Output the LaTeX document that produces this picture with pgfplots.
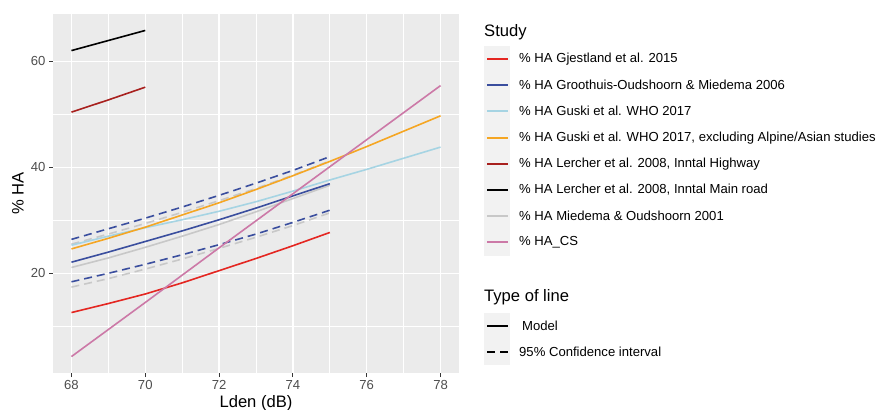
\documentclass[border=0pt]{standalone}
\usepackage{fontspec}
\setmainfont{Liberation Sans}
\usepackage{pgfplots}
\pgfplotsset{compat=1.18}
\definecolor{cRed}{RGB}{228,38,33}
\definecolor{cBlue}{RGB}{58,78,158}
\definecolor{cLBlue}{RGB}{166,212,227}
\definecolor{cOrange}{RGB}{245,166,35}
\definecolor{cDRed}{RGB}{168,32,30}
\definecolor{cGray}{RGB}{200,200,200}
\definecolor{cPink}{RGB}{204,121,167}
\definecolor{panel}{RGB}{235,235,235}
\definecolor{tickc}{RGB}{77,77,77}
\definecolor{keybg}{RGB}{242,242,242}
\newcommand{\legfont}{\fontsize{13.1}{15}\selectfont}
\newcommand{\titfont}{\fontsize{16.6}{19}\selectfont}
\begin{document}
\begin{tikzpicture}
\begin{axis}[
  at={(53pt,37pt)}, anchor=south west,
  scale only axis, width=406pt, height=359pt,
  xmin=67.5, xmax=78.5, ymin=1.2, ymax=68.9,
  axis background/.style={fill=panel},
  axis line style={draw=none},
  xtick={68,70,...,78}, ytick={20,40,60},
  minor xtick={69,71,...,77}, minor ytick={10,30,50},
  grid=both,
  major grid style={white, line width=1.3pt},
  minor grid style={white, line width=0.65pt},
  major tick style={draw=tickc!70!black, line width=1pt},
  major tick length=4pt, minor tick length=0pt,
  tick align=outside,
  xtick pos=bottom, ytick pos=left,
  ticklabel style={font=\legfont, text=tickc},
  /pgf/number format/assume math mode=true,
  xlabel={Lden (dB)}, ylabel={\% HA},
  label style={font=\titfont},
  xlabel style={at={(axis description cs:0.5,-0.0836)}, anchor=center},
  ylabel style={at={(axis description cs:-0.0862,0.5)}, anchor=center},
  lw/.style={line width=1.6pt},
  dashstyle/.style={line width=1.6pt, dash pattern=on 8pt off 5pt},
]
% Miedema & Oudshoorn 2001 (gray)
\addplot[color=cGray, dashstyle] coordinates {(68,25.5)(69,27.4)(70,29.4)(71,31.5)(72,33.7)(73,36.0)(74,38.5)(75,41.2)};
\addplot[color=cGray, dashstyle] coordinates {(68,17.4)(69,19.0)(70,20.8)(71,22.7)(72,24.7)(73,26.8)(74,29.0)(75,31.4)};
\addplot[color=cGray, lw] coordinates {(68,21.1)(69,22.9)(70,24.9)(71,27.0)(72,29.2)(73,31.6)(74,34.1)(75,36.6)};
% Gjestland 2015
\addplot[color=cRed, lw] coordinates {(68,12.6)(69,14.3)(70,16.1)(71,18.2)(72,20.5)(73,22.8)(74,25.2)(75,27.7)};
% Groothuis-Oudshoorn & Miedema 2006
\addplot[color=cBlue, dashstyle] coordinates {(68,26.4)(69,28.4)(70,30.4)(71,32.5)(72,34.7)(73,37.0)(74,39.4)(75,42.0)};
\addplot[color=cBlue, dashstyle] coordinates {(68,18.4)(69,20.0)(70,21.7)(71,23.5)(72,25.4)(73,27.4)(74,29.6)(75,31.9)};
\addplot[color=cBlue, lw] coordinates {(68,22.1)(69,24.0)(70,26.0)(71,28.0)(72,30.1)(73,32.3)(74,34.6)(75,36.9)};
% Guski WHO 2017
\addplot[color=cLBlue, lw] coordinates {(68,25.3)(69,27.0)(70,28.6)(71,30.1)(72,31.7)(73,33.5)(74,35.5)(75,37.6)(76,39.6)(77,41.7)(78,43.8)};
% Guski WHO 2017 excluding Alpine/Asian
\addplot[color=cOrange, lw] coordinates {(68,24.6)(69,26.6)(70,28.7)(71,31.0)(72,33.3)(73,35.8)(74,38.4)(75,41.1)(76,43.9)(77,46.8)(78,49.7)};
% Lercher 2008 Inntal Highway
\addplot[color=cDRed, lw] coordinates {(68,50.4)(69,52.7)(70,55.1)};
% Lercher 2008 Inntal Main road
\addplot[color=black, lw] coordinates {(68,62.0)(69,63.9)(70,65.8)};
% HA_CS
\addplot[color=cPink, lw] coordinates {(68,4.3)(70,14.5)(72,24.8)(74,35.0)(76,45.2)(78,55.4)};
\end{axis}
% ---- legend: Study
\node[anchor=west, font=\titfont, inner sep=0pt] at (484pt,378pt) {Study};
\fill[keybg] (484pt,{410pt-46pt}) rectangle (510pt,{410pt-256pt});
\foreach \clr/\yy/\txt in {%
  cRed/351/{\% HA Gjestland et al. 2015},%
  cBlue/325/{\% HA Groothuis-Oudshoorn \& Miedema 2006},%
  cLBlue/299/{\% HA Guski et al. WHO 2017},%
  cOrange/272/{\% HA Guski et al. WHO 2017, excluding Alpine/Asian studies},%
  cDRed/246/{\% HA Lercher et al. 2008, Inntal Highway},%
  black/220/{\% HA Lercher et al. 2008, Inntal Main road},%
  cGray/194/{\% HA Miedema \& Oudshoorn 2001},%
  cPink/168/{\% HA\_CS}}{%
  \draw[color=\clr, line width=1.8pt] (487pt,\yy pt) -- (508pt,\yy pt);
  \node[anchor=west, font=\legfont, inner sep=0pt] at (519pt,\yy pt) {\txt};
}
% ---- legend: Type of line
\node[anchor=west, font=\titfont, inner sep=0pt] at (484pt,{410pt-297pt}) {Type of line};
\fill[keybg] (484pt,{410pt-313pt}) rectangle (510pt,{410pt-365pt});
\draw[black, line width=1.8pt] (487pt,84pt) -- (508pt,84pt);
\node[anchor=west, font=\legfont, inner sep=0pt] at (522pt,84pt) {Model};
\draw[black, line width=1.8pt, dash pattern=on 8pt off 5pt] (487pt,58pt) -- (508pt,58pt);
\node[anchor=west, font=\legfont, inner sep=0pt] at (519pt,58pt) {95\% Confidence interval};
\pgfresetboundingbox
\path[use as bounding box] (0,0) rectangle (879pt,410pt);
\end{tikzpicture}
\end{document}
